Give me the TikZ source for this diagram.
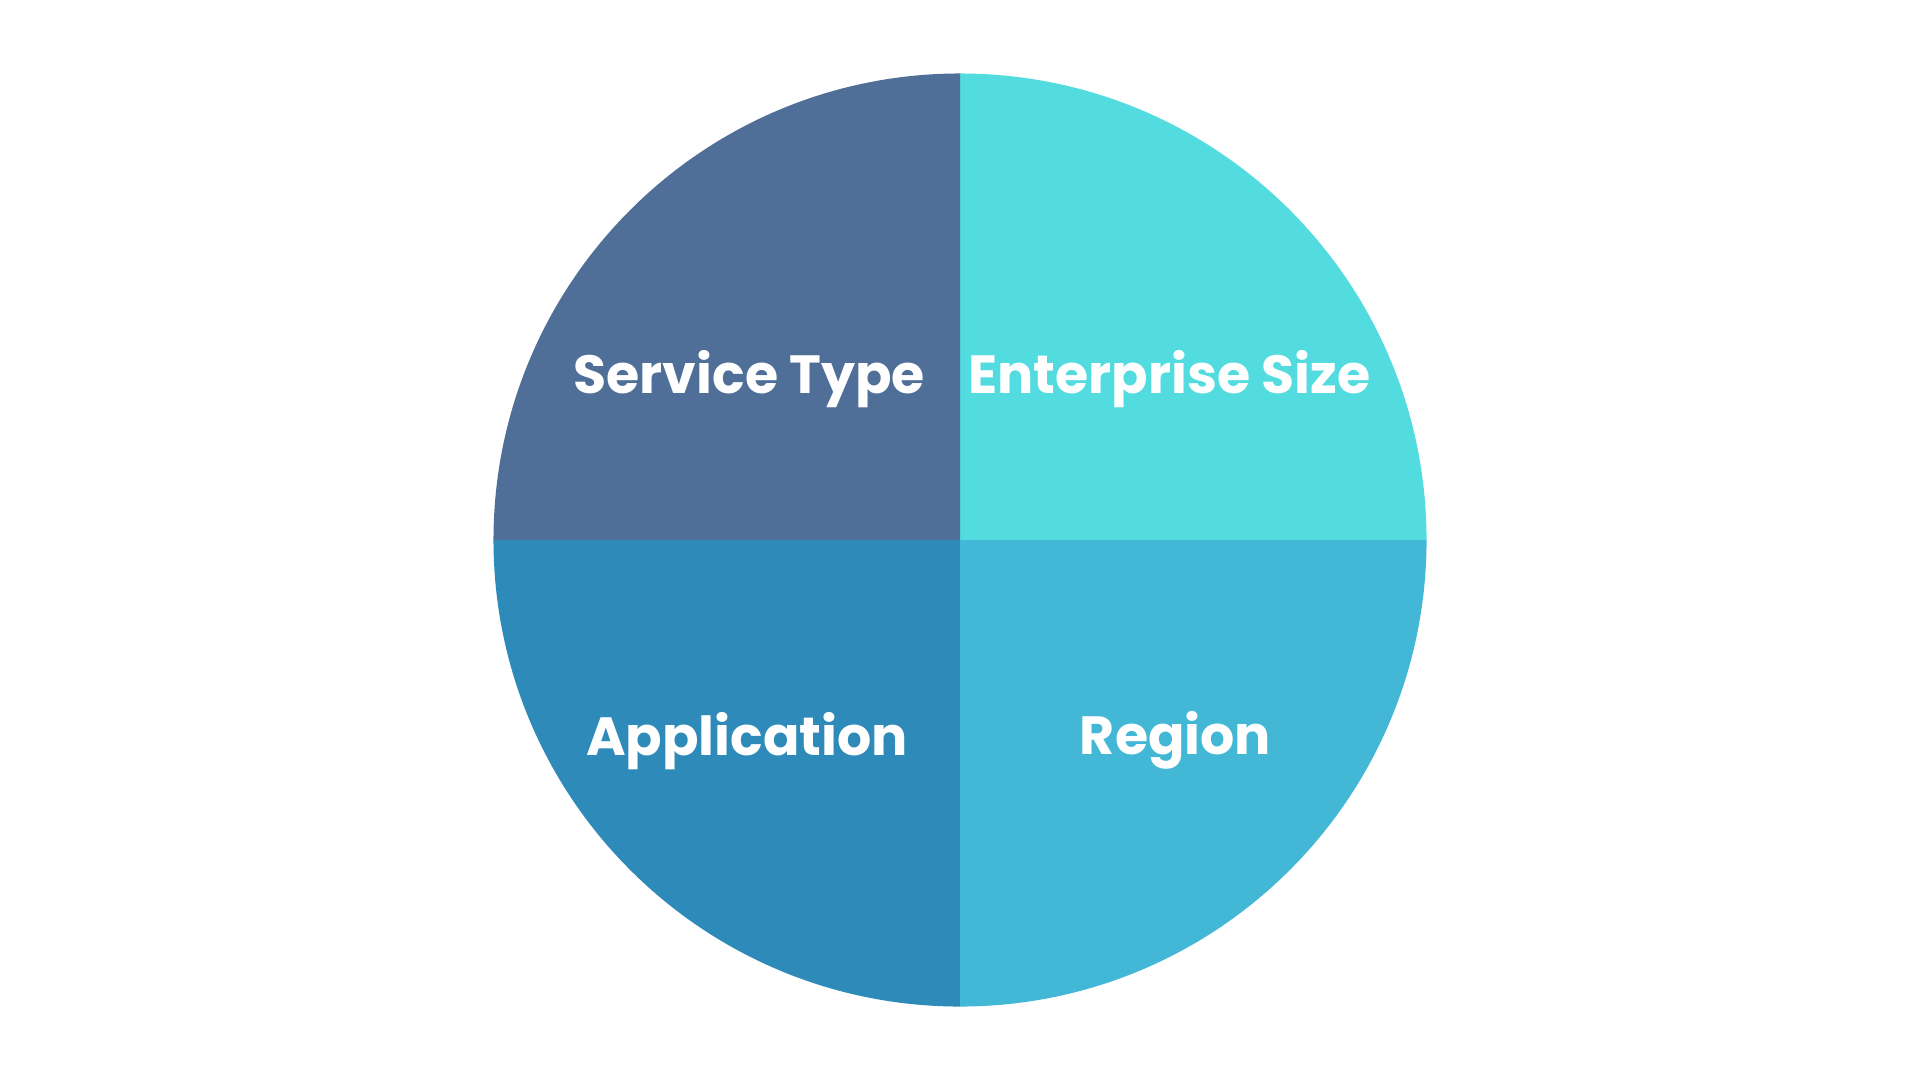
\documentclass[tikz,border=0pt]{standalone}
\usepackage{fontspec}
\setmainfont{Poppins}
\definecolor{service}{HTML}{4F6F99}
\definecolor{enterprise}{HTML}{52DCE0}
\definecolor{application}{HTML}{2E8BB9}
\definecolor{region}{HTML}{42B7D6}
\tikzset{%
  quarter/.style = {draw=none},
  segLabel/.style = {text=white, font=\bfseries\fontsize{12.5}{14}\selectfont}
  }
\begin{document}
\begin{tikzpicture}
  \useasboundingbox[fill=white] (0,0) rectangle (15.68,8.82);
  \coordinate (c) at (7.84,4.41);
  \def\r {3.81}
  \fill[quarter, enterprise] (c) -- ++(0,\r) arc (90:0:\r) -- cycle;
  \fill[quarter, service] (c) -- ++(0,\r) arc (90:180:\r) -- cycle;
  \fill[quarter, application] (c) -- ++(-\r,0) arc (180:270:\r) -- cycle;
  \fill[quarter, region] (c) -- ++(0,-\r) arc (270:360:\r) -- cycle;

  \node (st) [segLabel] at (6.12,5.72) {Service Type};
  \node (es) [segLabel] at (9.55,5.72) {Enterprise Size};
  \node (ap) [segLabel] at (6.10,2.77) {Application};
  \node (rg) [segLabel] at (9.60,2.77) {Region};
\end{tikzpicture}
\end{document}
